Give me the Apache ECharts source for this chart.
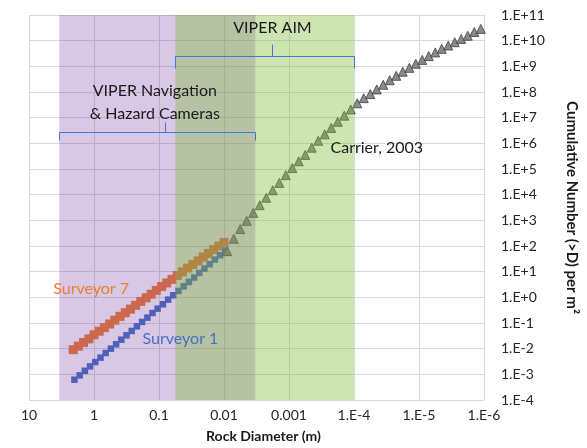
<!DOCTYPE html>
<html><head><meta charset="utf-8">
<script src="https://cdn.jsdelivr.net/npm/echarts@6/dist/echarts.min.js"></script>
<style>html,body{margin:0;padding:0;background:#fff}#c{width:587px;height:448px}</style>
</head><body><div id="c"></div>
<script>
// ---- data ----
const xTickExponents = [1, 0, -1, -2, -3, -4, -5, -6];
const xTickLabels = ['10', '1', '0.1', '0.01', '0.001', '1.E-4', '1.E-5', '1.E-6'];
const yTickExponents = [-4, -3, -2, -1, 0, 1, 2, 3, 4, 5, 6, 7, 8, 9, 10, 11];
const yTickLabels = ['1.E-4', '1.E-3', '1.E-2', '1.E-1', '1.E+0', '1.E+1', '1.E+2', '1.E+3', '1.E+4', '1.E+5', '1.E+6', '1.E+7', '1.E+8', '1.E+9', '1.E+10', '1.E+11'];

const carrierD = [8.91e-3, 7.08e-3, 5.62e-3, 4.47e-3, 3.55e-3, 2.82e-3, 2.24e-3, 1.78e-3, 1.41e-3, 1.12e-3,
  8.91e-4, 7.08e-4, 5.62e-4, 4.47e-4, 3.55e-4, 2.82e-4, 2.24e-4, 1.78e-4, 1.41e-4, 1.12e-4,
  8.91e-5, 7.08e-5, 5.62e-5, 4.47e-5, 3.55e-5, 2.82e-5, 2.24e-5, 1.78e-5, 1.41e-5, 1.12e-5,
  8.91e-6, 7.08e-6, 5.62e-6, 4.47e-6, 3.55e-6, 2.82e-6, 2.24e-6, 1.78e-6, 1.41e-6, 1.12e-6];
const carrierN = [6.31e1, 1.91e2, 4.57e2, 9.55e2, 1.95e3, 3.89e3, 7.59e3, 1.48e4, 2.88e4, 5.75e4,
  1.10e5, 2.00e5, 3.55e5, 6.76e5, 1.26e6, 2.24e6, 3.98e6, 6.92e6, 1.20e7, 2.09e7,
  3.63e7, 5.75e7, 8.32e7, 1.26e8, 1.91e8, 2.88e8, 4.27e8, 6.17e8, 8.71e8, 1.26e9,
  1.78e9, 2.51e9, 3.47e9, 4.79e9, 6.46e9, 8.71e9, 1.17e10, 1.55e10, 2.19e10, 2.88e10];

const surveyor7D = [2.09, 1.74, 1.45, 1.20, 1.00, 0.832, 0.692, 0.575, 0.479, 0.398,
  0.331, 0.275, 0.229, 0.191, 0.158, 0.132, 0.110, 0.0912, 0.0759, 0.0631,
  0.0525, 0.0437, 0.0363, 0.0302, 0.0251, 0.0209, 0.0174, 0.0145, 0.0120, 0.0100];
const surveyor7N = [0.00912, 0.0126, 0.0174, 0.0240, 0.0347, 0.0479, 0.0661, 0.0912, 0.129, 0.182,
  0.251, 0.347, 0.490, 0.692, 0.955, 1.32, 1.86, 2.63, 3.63, 5.01,
  7.08, 9.77, 13.8, 19.1, 26.3, 37.2, 51.3, 72.4, 100, 138];

const surveyor1D = [2.00, 1.66, 1.38, 1.15, 0.955, 0.794, 0.661, 0.550, 0.457, 0.380,
  0.316, 0.263, 0.219, 0.182, 0.151, 0.126, 0.105, 0.0871, 0.0724, 0.0603,
  0.0501, 0.0417, 0.0347, 0.0288, 0.0240, 0.0200, 0.0166, 0.0138, 0.0115, 0.00955];
const surveyor1N = [6.17e-4, 9.12e-4, 1.38e-3, 2.04e-3, 3.02e-3, 4.47e-3, 6.76e-3, 1.00e-2, 1.48e-2, 2.24e-2,
  3.31e-2, 4.90e-2, 7.41e-2, 0.110, 0.162, 0.245, 0.363, 0.537, 0.813, 1.20,
  1.78, 2.69, 3.98, 5.89, 8.91, 13.2, 19.5, 29.5, 43.7, 66.1];

const navBand = [3.43, 0.0033];   // VIPER Navigation & Hazard Cameras range (m)
const aimBand = [0.056, 1.0e-4];  // VIPER AIM range (m)

// ---- chart ----
const FONT = 'Lato, "Open Sans", sans-serif';
const zip = (a, b) => a.map((v, i) => [v, b[i]]);
const expOf = v => Math.round(Math.log10(v));

const chart = echarts.init(document.getElementById('c'), null, {renderer: 'canvas'});
chart.setOption({
  animation: false,
  grid: {left: 29, right: 102, top: 15, bottom: 36, containLabel: false},
  xAxis: {
    type: 'log', logBase: 10, inverse: true, min: 1e-6, max: 10, interval: 1,
    axisLine: {show: false}, axisTick: {show: false},
    splitLine: {show: true, lineStyle: {color: '#d9d9d9', width: 1}},
    axisLabel: {
      color: '#262626', fontFamily: FONT, fontSize: 14, margin: 8,
      formatter: v => { const i = xTickExponents.indexOf(expOf(v)); return i >= 0 ? xTickLabels[i] : ''; }
    },
    name: 'Rock Diameter (m)', nameLocation: 'middle', nameGap: 29,
    nameTextStyle: {color: '#1a1a1a', fontFamily: FONT, fontSize: 14, fontWeight: 'bold', padding: [0, 0, 0, 14]}
  },
  yAxis: {
    type: 'log', logBase: 10, position: 'right', min: 1e-4, max: 1e11, interval: 1,
    axisLine: {show: false}, axisTick: {show: false},
    splitLine: {show: true, lineStyle: {color: '#d9d9d9', width: 1}},
    axisLabel: {
      color: '#262626', fontFamily: FONT, fontSize: 14, margin: 17,
      formatter: v => { const i = yTickExponents.indexOf(expOf(v)); return i >= 0 ? yTickLabels[i] : ''; }
    },
    name: 'Cumulative Number (>D) per m²', nameLocation: 'middle', nameGap: 80, nameRotate: -90,
    nameTextStyle: {color: '#1a1a1a', fontFamily: FONT, fontSize: 15, fontWeight: 'bold'}
  },
  series: [
    {
      name: 'Surveyor 7', type: 'scatter', z: 2, symbol: 'rect', symbolSize: 9,
      itemStyle: {color: '#ED7D31', opacity: 1},
      data: zip(surveyor7D, surveyor7N)
    },
    {
      name: 'Surveyor 1', type: 'scatter', z: 2, symbol: 'rect', symbolSize: 6.5,
      itemStyle: {color: '#4472C4', opacity: 1},
      data: zip(surveyor1D, surveyor1N)
    },
    {
      name: 'Carrier, 2003', type: 'scatter', z: 3, symbol: 'triangle', symbolSize: 9,
      itemStyle: {color: '#8a8a8a', borderColor: '#3f3f3f', borderWidth: 0.8, opacity: 1},
      data: zip(carrierD, carrierN)
    },
    {
      name: 'bands', type: 'scatter', z: 10, data: [], silent: true,
      markArea: {
        silent: true, z: 10,
        data: [
          [{xAxis: navBand[0], itemStyle: {color: 'rgba(112,48,160,0.27)'}}, {xAxis: navBand[1]}],
          [{xAxis: aimBand[0], itemStyle: {color: 'rgba(125,185,55,0.38)'}}, {xAxis: aimBand[1]}]
        ]
      }
    }
  ]
});

// ---- annotations (anchored in data coordinates) ----
const P = (x, y) => chart.convertToPixel({gridIndex: 0}, [x, y]);
const snap = v => Math.round(v) + 0.5;
const blue = '#3f78d8';
const lineStyle = {stroke: blue, lineWidth: 1, fill: null};
const aimY = snap(P(1, 2.5e9)[1]);
const navY = snap(P(1, 2.8e6)[1]);
const aimL = snap(P(aimBand[0], 1)[0]), aimR = snap(P(aimBand[1], 1)[0]), aimM = snap(P(0.0018, 1)[0]);
const navL = snap(P(navBand[0], 1)[0]), navR = snap(P(navBand[1], 1)[0]), navM = snap(P(0.08, 1)[0]);
const txt = (x, y, text, color, align) => ({
  type: 'text', z: 200, x: x, y: y,
  style: {text: text, fill: color, font: '16px ' + FONT, align: align || 'center', verticalAlign: 'middle', lineHeight: 23}
});
const s7 = P(4.24, 2.1), s1 = P(0.179, 0.0232), car = P(2.3e-4, 6.5e5);
chart.setOption({
  graphic: [
    {type: 'polyline', z: 200, shape: {points: [[aimL, aimY + 12], [aimL, aimY], [aimR, aimY], [aimR, aimY + 12]]}, style: lineStyle},
    {type: 'polyline', z: 200, shape: {points: [[aimM, aimY], [aimM, aimY - 12]]}, style: lineStyle},
    {type: 'polyline', z: 200, shape: {points: [[navL, navY + 8], [navL, navY], [navR, navY], [navR, navY + 8]]}, style: lineStyle},
    {type: 'polyline', z: 200, shape: {points: [[navM, navY], [navM, navY - 10]]}, style: lineStyle},
    txt(aimM, aimY - 29, 'VIPER AIM', '#1a1a1a'),
    txt(P(0.116, 1)[0], navY - 30.5, 'VIPER Navigation\n& Hazard Cameras', '#1a1a1a'),
    txt(car[0], car[1], 'Carrier, 2003', '#1a1a1a', 'left'),
    txt(s7[0], s7[1], 'Surveyor 7', '#ED7D31', 'left'),
    txt(s1[0], s1[1], 'Surveyor 1', '#4472C4', 'left')
  ]
});
</script>
</body></html>
